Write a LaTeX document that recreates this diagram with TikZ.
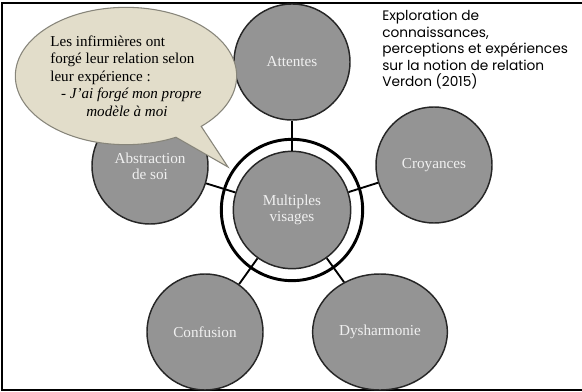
\documentclass[tikz,border=0pt]{standalone}
\usepackage{fontspec}
\setmainfont{Liberation Serif}
\newfontfamily\gothic{Poppins}
\usetikzlibrary{shapes.geometric,shapes.callouts}
\definecolor{disque}{RGB}{148,148,148}
\definecolor{bulle}{RGB}{226,221,202}
\definecolor{bord}{RGB}{135,133,122}
\begin{document}
\begin{tikzpicture}[x=0.75pt, y=-0.75pt,
 rond/.style={circle, draw=black!85, line width=1.1pt, fill=disque, minimum size=87pt, inner sep=0pt,
  text=white!94!black, font=\fontsize{11.4}{12.2}\selectfont, align=center},
 lien/.style={line width=1.4pt}]
 \useasboundingbox (0,0) rectangle (582,392);
 \draw[line width=1.6pt] (600,3) -- (2,3) -- (2,390) -- (600,390);

 \draw node[circle, draw, fill=white, line width=2.2pt, minimum size=106pt] (anneau) at (292,210) {};
 \draw node[rond, minimum size=88pt] (mv) at (292,210) {Multiples\\visages};
 \draw node[rond] (att) at (292,62) {Attentes};
 \draw node[rond] (cro) at (434,165) {Croyances};
 \draw node[rond] (abs) at (150,166) {Abstraction\\de soi};
 \draw node[rond] (conf) at (205,332) {Confusion};
 \draw node[rond, ellipse, minimum width=101pt, minimum height=87pt] (dys) at (380,332) {Dysharmonie};

 \draw[lien] (mv) -- (att);
 \draw[lien] (mv) -- (cro);
 \draw[lien] (mv) -- (abs);
 \draw[lien] (mv) -- (conf);
 \draw[lien] (mv) -- (dys);

 \draw node[ellipse callout, draw=bord, fill=bulle, line width=0.8pt, inner sep=0pt,
  minimum width=166pt, minimum height=103pt, callout pointer arc=16,
  callout absolute pointer={(228,167)}, align=left,
  font=\fontsize{11.3}{13.1}\selectfont] (bulle) at (126,76)
  {Les infirmières ont\\forgé leur relation selon\\leur expérience :\\
  \hspace*{8pt}\textit{- J'ai forgé mon propre}\\\hspace*{27pt}\textit{modèle à moi}};

 \draw node[anchor=north west, align=left, inner sep=0pt,
  font=\gothic\fontsize{10.3}{12.4}\selectfont] (titre) at (382,10)
  {Exploration de\\connaissances,\\perceptions et expériences\\sur la notion de relation\\Verdon (2015)};
\end{tikzpicture}
\end{document}
